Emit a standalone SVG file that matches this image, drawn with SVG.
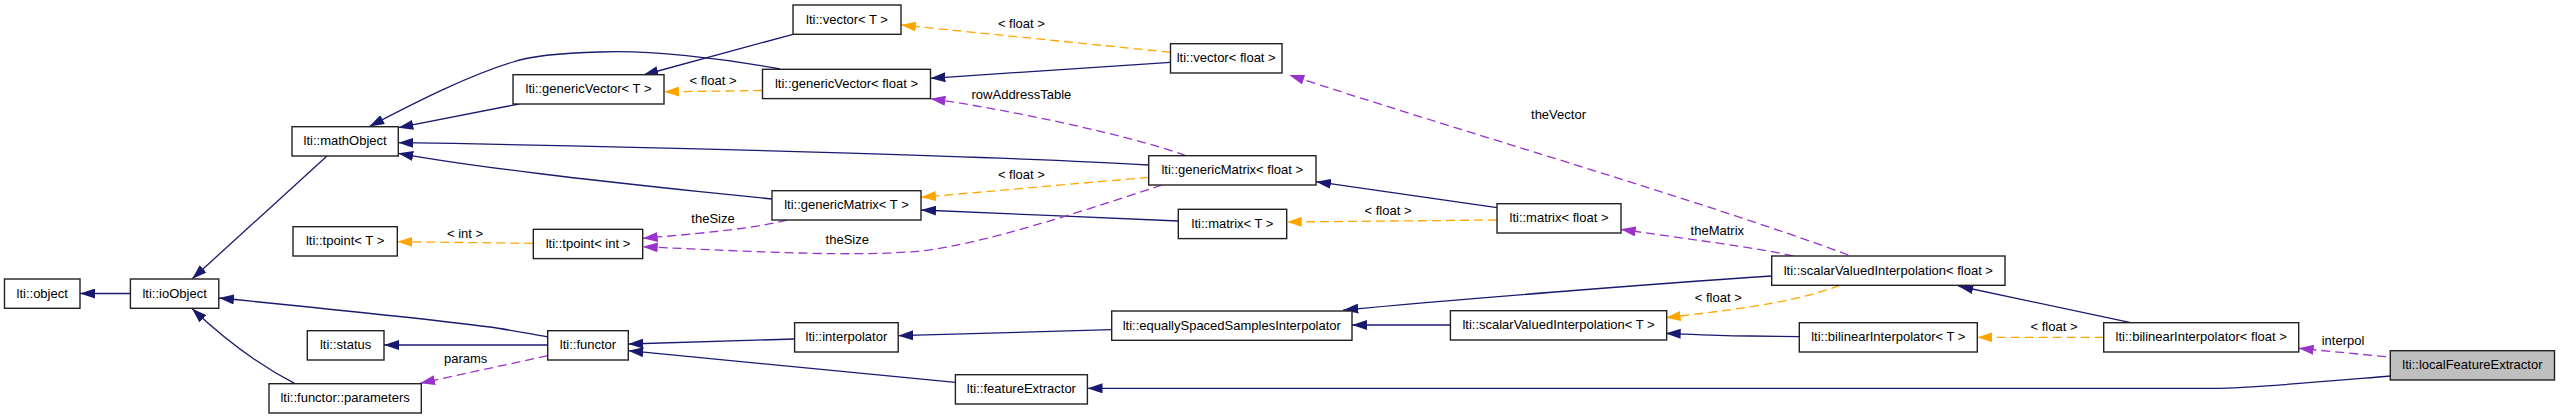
<svg xmlns="http://www.w3.org/2000/svg" width="2560" height="419" viewBox="0 0 2560 419">
<style>
.n rect{fill:#fff;stroke:#222;stroke-width:1.4}
.n.g rect{fill:#bfbfbf}
text{font-family:"Liberation Sans",Arial,sans-serif;font-size:13px;fill:#000;text-anchor:middle}
.e path{fill:none;stroke-width:1.3}
.i{stroke:#191970;marker-end:url(#an)}
.t{stroke:#ffa500;stroke-dasharray:9,5;marker-end:url(#ao)}
.u{stroke:#9a32cd;stroke-dasharray:9,5;marker-end:url(#ap)}
</style>
<defs>
<marker id="an" markerUnits="userSpaceOnUse" markerWidth="15" markerHeight="10" viewBox="0 0 15 10" refX="15" refY="5" orient="auto"><path d="M0,0L15,5L0,10z" fill="#191970"/></marker>
<marker id="ao" markerUnits="userSpaceOnUse" markerWidth="15" markerHeight="10" viewBox="0 0 15 10" refX="15" refY="5" orient="auto"><path d="M0,0L15,5L0,10z" fill="#ffa500"/></marker>
<marker id="ap" markerUnits="userSpaceOnUse" markerWidth="15" markerHeight="10" viewBox="0 0 15 10" refX="15" refY="5" orient="auto"><path d="M0,0L15,5L0,10z" fill="#9a32cd"/></marker>
</defs>
<rect width="2560" height="419" fill="#fff"/>
<g id="edges" class="e">
<path class="i" d="M130.4,293.5L80,293.5"/>
<path class="i" d="M327,156L192,279"/>
<path class="i" d="M548,337C530,334 505,329 490,327C420,318 300,306 219,298"/>
<path class="i" d="M295,383.7C255,363 220,335 192,308.5"/>
<path class="i" d="M519,104L398.3,127.7"/>
<path class="i" d="M793,34.3L643.3,75"/>
<path class="i" d="M780,69C720,58 650,50 600,52C560,53 530,56 513,62C470,75 420,100 369.3,126.5"/>
<path class="t" d="M762.5,90.5L664,91.8"/>
<path class="t" d="M1170.5,52.3L901,25"/>
<path class="i" d="M1170.5,62.3L930.4,78.3"/>
<path class="u" d="M1185.7,155.7C1130,135 1000,108 930.4,98.7"/>
<path class="i" d="M1149,165C1050,159 700,147 398.3,142.7"/>
<path class="i" d="M772,199L700,191.7C600,181 480,168 398.3,153.3"/>
<path class="t" d="M1148.7,177.3L921,197.3"/>
<path class="i" d="M1178.3,221C1100,218 1000,213 921,210"/>
<path class="i" d="M1497,207.7L1316,181.7"/>
<path class="t" d="M1497,220L1286.7,222"/>
<path class="t" d="M533.3,243.3L397.3,241.7"/>
<path class="u" d="M787,220C760,227 720,232 642.7,238.3"/>
<path class="u" d="M1162,185C1080,212 980,245 920,251C860,257 760,252 642.7,246.7"/>
<path class="i" d="M547.7,345L384,345"/>
<path class="u" d="M547.7,355.7L420,383.3"/>
<path class="i" d="M794.6,339L628.3,344"/>
<path class="i" d="M955.4,382.3L628.3,350.7"/>
<path class="i" d="M1111.7,329.7L898.2,335.7"/>
<path class="i" d="M1450.4,325L1352,325"/>
<path class="i" d="M1771.7,276C1650,284 1450,300 1343.3,310"/>
<path class="t" d="M1840,285.3C1800,300 1760,307 1665.7,317.7"/>
<path class="u" d="M1793.3,256C1760,248 1680,238 1620.7,229.3"/>
<path class="u" d="M1848.3,255C1700,200 1450,128 1289.3,75"/>
<path class="i" d="M1799.3,336.7L1750,336C1720,336 1690,334 1665.7,333.3"/>
<path class="t" d="M2103.7,337.3L1977.3,337.3"/>
<path class="i" d="M2130.7,322.7L1958.3,286"/>
<path class="u" d="M2386,356.7L2298.6,348.3"/>
<path class="i" d="M2390.3,376C2330,381 2250,388.3 2215,388.3L1087.5,388.3"/>
<text x="713" y="85">&lt; float &gt;</text>
<text x="1021.4" y="27.5">&lt; float &gt;</text>
<text x="1021.4" y="99">rowAddressTable</text>
<text x="1021.4" y="179">&lt; float &gt;</text>
<text x="713" y="223">theSize</text>
<text x="847.3" y="244">theSize</text>
<text x="465" y="237.5">&lt; int &gt;</text>
<text x="465.7" y="363">params</text>
<text x="1388" y="215">&lt; float &gt;</text>
<text x="1558.5" y="119">theVector</text>
<text x="1717.3" y="235">theMatrix</text>
<text x="1718.3" y="301.5">&lt; float &gt;</text>
<text x="2054" y="331">&lt; float &gt;</text>
<text x="2343" y="345">interpol</text>
</g>
<g id="n_object" class="n"><rect x="4.5" y="279" width="75.5" height="29.3"/><text x="42.2" y="297.7">lti::object</text></g>
<g id="n_ioObject" class="n"><rect x="130.4" y="279" width="88.4" height="29.3"/><text x="174.6" y="297.7">lti::ioObject</text></g>
<g id="n_mathObject" class="n"><rect x="292" y="126.7" width="106.3" height="29.3"/><text x="345.1" y="145.3">lti::mathObject</text></g>
<g id="n_genericVectorT" class="n"><rect x="513" y="74.7" width="151" height="29.3"/><text x="588.5" y="93.3">lti::genericVector&lt; T &gt;</text></g>
<g id="n_tpointT" class="n"><rect x="293" y="226.7" width="104.3" height="29.3"/><text x="345.1" y="245.3">lti::tpoint&lt; T &gt;</text></g>
<g id="n_tpointInt" class="n"><rect x="533.3" y="229.3" width="109.4" height="29.3"/><text x="588" y="248">lti::tpoint&lt; int &gt;</text></g>
<g id="n_status" class="n"><rect x="307.3" y="330.7" width="76.7" height="29.3"/><text x="345.6" y="349.3">lti::status</text></g>
<g id="n_functor" class="n"><rect x="547.7" y="330.7" width="80.6" height="29.3"/><text x="588" y="349.3">lti::functor</text></g>
<g id="n_parameters" class="n"><rect x="269" y="383.7" width="152.3" height="29.3"/><text x="345.1" y="402.3">lti::functor::parameters</text></g>
<g id="n_vectorT" class="n"><rect x="793" y="5" width="108" height="29.3"/><text x="847" y="23.7">lti::vector&lt; T &gt;</text></g>
<g id="n_vectorFloat" class="n"><rect x="1170.5" y="43.7" width="111.5" height="29.3"/><text x="1226.2" y="62.3">lti::vector&lt; float &gt;</text></g>
<g id="n_genericVectorFloat" class="n"><rect x="762.5" y="69.3" width="168" height="29.3"/><text x="846.5" y="88">lti::genericVector&lt; float &gt;</text></g>
<g id="n_genericMatrixFloat" class="n"><rect x="1148.7" y="155.7" width="167.3" height="29.3"/><text x="1232.3" y="174.3">lti::genericMatrix&lt; float &gt;</text></g>
<g id="n_genericMatrixT" class="n"><rect x="772" y="190.7" width="149" height="29.3"/><text x="846.5" y="209.3">lti::genericMatrix&lt; T &gt;</text></g>
<g id="n_matrixT" class="n"><rect x="1178.3" y="209.3" width="108.4" height="29.3"/><text x="1232.5" y="228">lti::matrix&lt; T &gt;</text></g>
<g id="n_matrixFloat" class="n"><rect x="1497" y="203.7" width="124" height="29.3"/><text x="1559" y="222.3">lti::matrix&lt; float &gt;</text></g>
<g id="n_eSSI" class="n"><rect x="1111.7" y="311" width="240.3" height="29.3"/><text x="1231.8" y="329.7">lti::equallySpacedSamplesInterpolator</text></g>
<g id="n_interpolator" class="n"><rect x="794.6" y="322.7" width="103.6" height="29.3"/><text x="846.4" y="341.3">lti::interpolator</text></g>
<g id="n_featureExtractor" class="n"><rect x="955.4" y="374.7" width="132" height="29.3"/><text x="1021.4" y="393.3">lti::featureExtractor</text></g>
<g id="n_sVIFloat" class="n"><rect x="1771.7" y="256" width="233.3" height="29.3"/><text x="1888.3" y="274.7">lti::scalarValuedInterpolation&lt; float &gt;</text></g>
<g id="n_sVIT" class="n"><rect x="1450.4" y="310.7" width="216.3" height="29.3"/><text x="1558.5" y="329.3">lti::scalarValuedInterpolation&lt; T &gt;</text></g>
<g id="n_bIT" class="n"><rect x="1799.3" y="322.7" width="178" height="29.3"/><text x="1888.3" y="341.3">lti::bilinearInterpolator&lt; T &gt;</text></g>
<g id="n_bIFloat" class="n"><rect x="2103.7" y="322.7" width="195" height="29.3"/><text x="2201.2" y="341.3">lti::bilinearInterpolator&lt; float &gt;</text></g>
<g id="n_localFeatureExtractor" class="n g"><rect x="2390.3" y="350.7" width="164.2" height="29.3"/><text x="2472.4" y="369.3">lti::localFeatureExtractor</text></g>
</svg>
